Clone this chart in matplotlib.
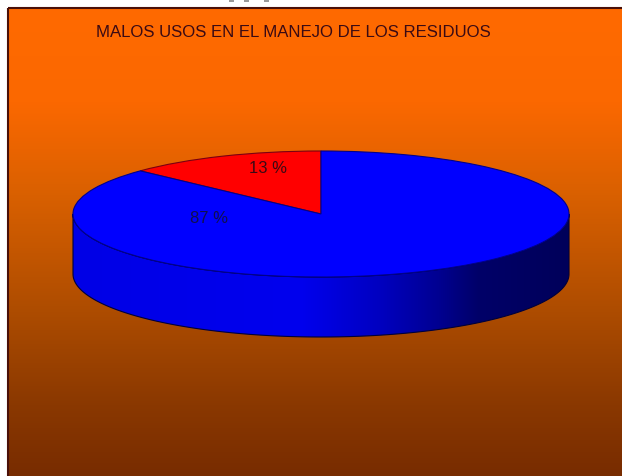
import numpy as np
import matplotlib
matplotlib.use("Agg")
import matplotlib.pyplot as plt
from matplotlib.colors import LinearSegmentedColormap
from matplotlib.patches import Polygon, Rectangle

# datos
title = "MALOS USOS EN EL MANEJO DE LOS RESIDUOS"
values = [13, 87]
slice_colors = ["#ff0000", "#0000ff"]
edge_colors = ["#7a0010", "#00008c"]
label_colors = ["#3a0a14", "#10104e"]

W, H = 622, 476
cx, cy, rx, ry, depth = 321, 214, 248, 63, 60

plt.rcParams["font.family"] = ["Liberation Sans", "DejaVu Sans"]
fig = plt.figure(figsize=(W / 100, H / 100), dpi=100, facecolor="white")

# lienzo en pixeles
bg = fig.add_axes([0, 0, 1, 1])
bg.axis("off")

# fondo naranja a marron
bg_cmap = LinearSegmentedColormap.from_list("fondo", [
    (0.0, "#ff6a00"), (0.2, "#fb6800"), (0.4, "#d96000"),
    (0.65, "#ad4c00"), (0.85, "#8a3800"), (1.0, "#782c00")])
grad = np.linspace(0, 1, 256).reshape(-1, 1)
bg.imshow(grad, cmap=bg_cmap, extent=(8, W, H, 8), aspect="auto", zorder=1)
bg.add_patch(Rectangle((7.5, 7.5), W, H, fill=False, ec="#4a1008", lw=1.5, zorder=2))

# restos grises arriba del panel
for x0 in [229, 244, 264]:
    bg.add_patch(Rectangle((x0, 0), 5, 1.5, fc="#9a9a9a", ec="none", zorder=2))

# pared lateral del pastel
t = np.linspace(0, np.pi, 200)
xs = cx + rx * np.cos(t)
ys = cy + ry * np.sin(t)
wall_pts = np.vstack([np.column_stack([xs, ys]),
                      np.column_stack([xs[::-1], ys[::-1] + depth])])
wall = Polygon(wall_pts, closed=True, fc="none", ec="#00003a", lw=0.8, zorder=4)
bg.add_patch(wall)
wall_cmap = LinearSegmentedColormap.from_list("pared", [
    (0.0, "#0000e6"), (0.46, "#0000ee"), (0.62, "#0000c0"),
    (0.74, "#000090"), (0.82, "#000068"), (1.0, "#00005a")])
side = bg.imshow(np.linspace(0, 1, 256).reshape(1, -1), cmap=wall_cmap,
                 extent=(cx - rx, cx + rx, cy + ry + depth, cy), aspect="auto", zorder=3)
side.set_clip_path(wall)
bg.set_xlim(0, W)
bg.set_ylim(H, 0)

# cara superior, la elipse sale de estirar los ejes del pie
top = fig.add_axes([(cx - rx) / W, 1 - (cy + ry) / H, 2 * rx / W, 2 * ry / H])
wedges, _ = top.pie(values, colors=slice_colors, startangle=90, radius=1,
                    wedgeprops={"linewidth": 0.8})
for w, ec in zip(wedges, edge_colors):
    w.set_edgecolor(ec)
top.set_aspect("auto")
top.set_xlim(-1, 1)
top.set_ylim(-1, 1)
top.patch.set_alpha(0)

# textos
bg.text(96, 32.5, title, fontsize=12.1, color="#3a0a14", va="center", ha="left", zorder=6)
fig.text(268 / W, 1 - 168.5 / H, f"{values[0]} %", fontsize=12, color=label_colors[0],
         ha="center", va="center", zorder=10)
fig.text(209 / W, 1 - 218.5 / H, f"{values[1]} %", fontsize=12, color=label_colors[1],
         ha="center", va="center", zorder=10)

fig.savefig("out.png", dpi=100, facecolor="white")
